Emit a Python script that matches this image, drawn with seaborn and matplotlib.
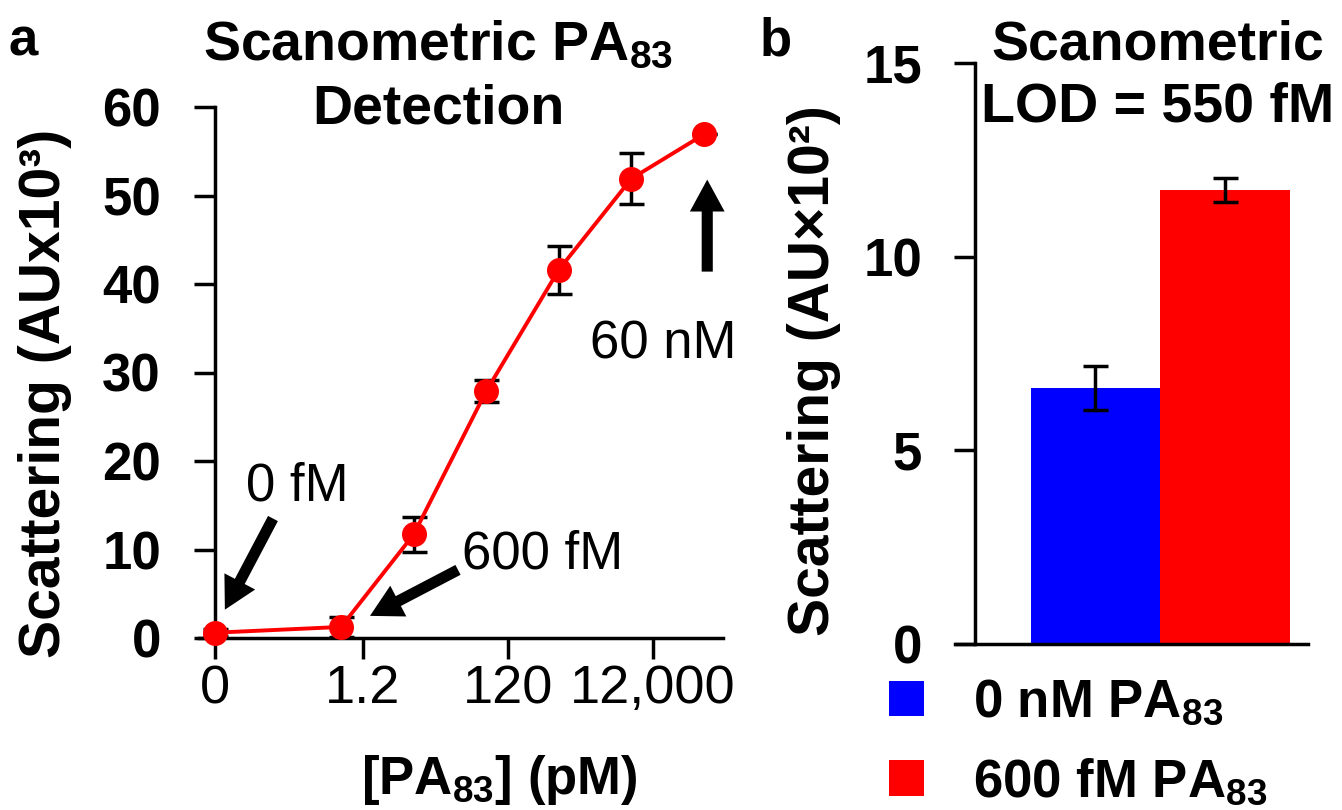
import numpy as np
import pandas as pd
import seaborn as sns
import matplotlib.pyplot as plt
from matplotlib.patches import Patch

# panel a: scanometric PA83 titration; the 0 fM sample sits at 0.011 pM on the log axis
conc_pm = [0.011, 0.6, 6, 60, 600, 6000, 60000]
signal = [0.6, 1.25, 11.7, 27.9, 41.6, 51.9, 56.9]
signal_err = [0.4, 1.1, 2.0, 1.2, 2.7, 2.9, 0.0]
xtick_pos = [0.011, 1.2, 120, 12000]
xtick_labels = ['0', '1.2', '120', '12,000']
ytick_a = [0, 10, 20, 30, 40, 50, 60]

# panel b: blank vs 600 fM
groups = ['0 nM PA$_{\\mathbf{83}}$', '600 fM PA$_{\\mathbf{83}}$']
bar_vals = [6.6, 11.72]
bar_err = [0.57, 0.3]
bar_colors = ['#0000ff', '#ff0000']
ytick_b = [0, 5, 10, 15]

sns.set_style('ticks')
plt.rcParams['font.family'] = ['Liberation Sans', 'DejaVu Sans']
plt.rcParams['mathtext.fontset'] = 'custom'
plt.rcParams['mathtext.rm'] = 'Liberation Sans'
plt.rcParams['mathtext.bf'] = 'Liberation Sans:bold'
plt.rcParams['mathtext.it'] = 'Liberation Sans:italic'
for k in ['text.color', 'axes.labelcolor', 'xtick.color', 'ytick.color', 'axes.edgecolor']:
    plt.rcParams[k] = 'black'

W, H = 1342, 810
fig = plt.figure(figsize=(W / 100, H / 100), dpi=100)


def box(l, t, r, b):
    return [l / W, 1 - b / H, (r - l) / W, (b - t) / H]


FS = 38
LFS = 41
TFS = 40
LW = 2.5

# ---------------- panel a ----------------
axa = fig.add_axes(box(199, 107, 723, 638))
axa.set_xscale('log')
axa.errorbar(conc_pm, signal, yerr=signal_err, fmt='none', ecolor='black',
             elinewidth=LW, capsize=9, capthick=LW, zorder=2, clip_on=False)
sns.lineplot(x=conc_pm, y=signal, ax=axa, color='red', linewidth=2.8, marker='o',
             markersize=18, markeredgewidth=0, zorder=3, clip_on=False)
for s in ['top', 'right']:
    axa.spines[s].set_visible(False)
axa.spines['left'].set_position(('data', xtick_pos[0]))
for s in ['left', 'bottom']:
    axa.spines[s].set_linewidth(LW)
axa.set_xlim(0.0066, 1.1e5)
axa.set_ylim(0, 60)
axa.set_xticks(xtick_pos, xtick_labels, fontsize=39)
axa.minorticks_off()
axa.set_yticks(ytick_a, [str(v) for v in ytick_a], fontsize=FS, fontweight='bold')
axa.tick_params(axis='x', length=15, width=LW, pad=4)
axa.tick_params(axis='y', length=15, width=LW, pad=24)
axa.set_ylabel('Scattering (AUx10³)', fontsize=LFS, fontweight='bold', va='center')
axa.yaxis.set_label_coords(-0.294, 0.461)
axa.set_xlabel('[PA$_{\\mathbf{83}}$] (pM)', fontsize=FS, fontweight='bold', va='center')
axa.xaxis.set_label_coords(0.574, -0.268)

arrow = dict(facecolor='black', edgecolor='none', width=8, headwidth=25,
             headlength=23, shrink=0)
axa.annotate('', xy=(0.015, 3.2), xytext=(0.069, 13.5), arrowprops=arrow,
             annotation_clip=False)
axa.text(0.029, 15.5, '0 fM', fontsize=FS, ha='left', va='baseline')
axa.annotate('', xy=(1.5, 2.5), xytext=(24.5, 7.7), arrowprops=arrow,
             annotation_clip=False)
axa.text(27.9, 7.9, '600 fM', fontsize=FS, ha='left', va='baseline')
axa.annotate('', xy=(66700, 51.8), xytext=(66700, 41.4), arrowprops=arrow,
             annotation_clip=False)
axa.text(1620, 31.6, '60 nM', fontsize=FS, ha='left', va='baseline')

fig.text(438 / W, 1 - 123 / H, 'Scanometric PA$_{\\mathbf{83}}$\nDetection',
         fontsize=TFS, fontweight='bold', ha='center', va='baseline',
         multialignment='center', linespacing=1.27)
fig.text(8 / W, 1 - 56 / H, 'a', fontsize=FS, fontweight='bold', va='baseline')

# ---------------- panel b ----------------
axb = fig.add_axes(box(955, 63, 1308, 644))
sns.barplot(x=groups, y=bar_vals, hue=groups, palette=bar_colors, width=1.0,
            errorbar=None, legend=False, saturation=1, linewidth=0, ax=axb)
axb.errorbar(range(len(groups)), bar_vals, yerr=bar_err, fmt='none', ecolor='black',
             elinewidth=LW, capsize=9, capthick=LW, zorder=3)
for s in ['top', 'right']:
    axb.spines[s].set_visible(False)
axb.spines['left'].set_position(('data', -0.927))
for s in ['left', 'bottom']:
    axb.spines[s].set_linewidth(LW)
axb.set_xlim(-1.081, 1.635)
axb.set_ylim(0, 15)
axb.set_xticks([])
axb.set_xlabel('')
axb.set_yticks(ytick_b, [str(v) for v in ytick_b], fontsize=FS, fontweight='bold')
axb.tick_params(axis='y', length=15, width=LW, pad=23)
axb.set_ylabel('Scattering (AU×10²)', fontsize=LFS, fontweight='bold', va='center')
axb.yaxis.set_label_coords(-0.399, 0.47)

fig.text(1158 / W, 1 - 122 / H, 'Scanometric\nLOD = 550 fM', fontsize=TFS,
         fontweight='bold', ha='center', va='baseline', multialignment='center',
         linespacing=1.27)
fig.text(760 / W, 1 - 56 / H, 'b', fontsize=FS, fontweight='bold', va='baseline')

handles = [Patch(facecolor=c, edgecolor='none') for c in bar_colors]
fig.legend(handles, groups, loc='upper left', bbox_to_anchor=(889 / W, 1 - 678 / H),
           frameon=False, prop={'weight': 'bold', 'size': FS}, handlelength=0.66,
           handleheight=0.66, handletextpad=0.93, labelspacing=0.55, borderpad=0,
           borderaxespad=0)

fig.savefig('out.png', dpi=100)
